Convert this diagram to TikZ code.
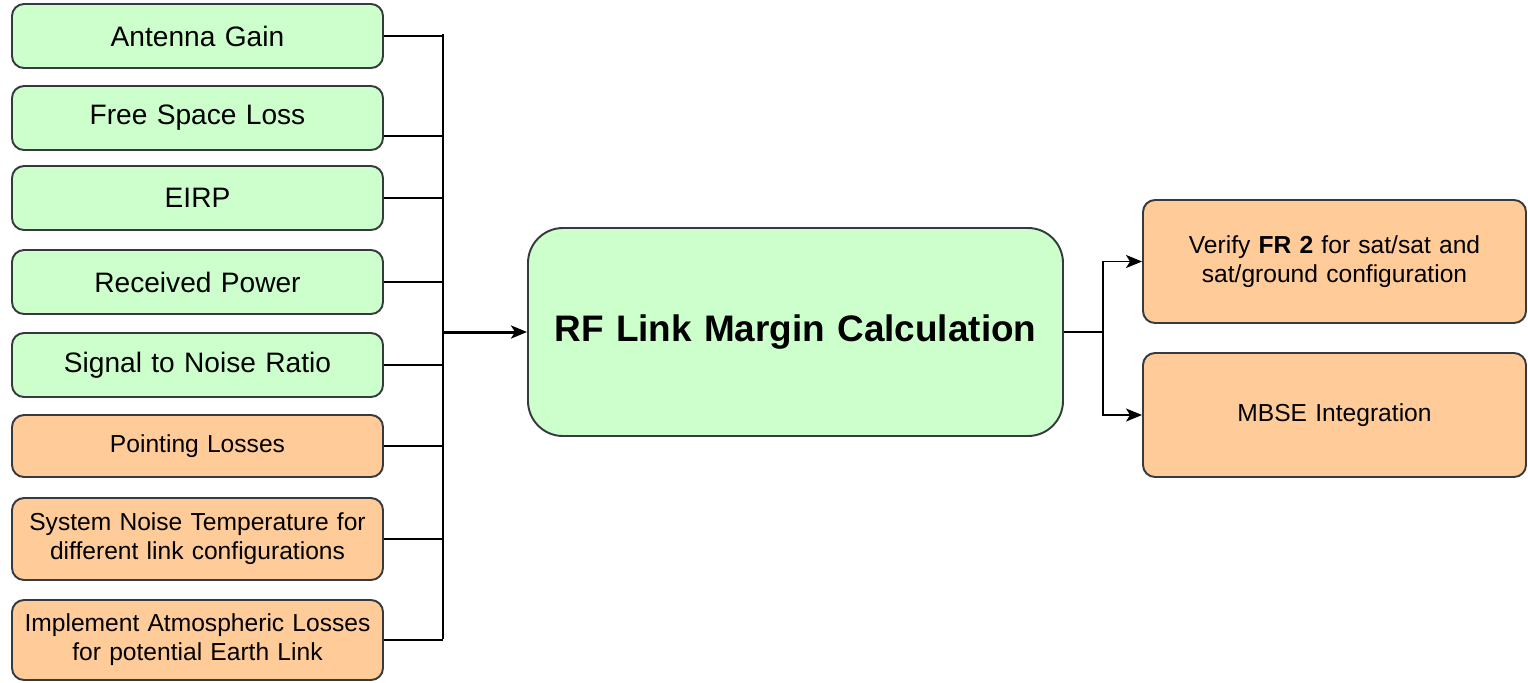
\documentclass[tikz,border=0pt]{standalone}
\usepackage{fontspec}
\setmainfont{Liberation Sans}
\usepackage{tikz}
\usetikzlibrary{arrows.meta}
\definecolor{paleGreen}{HTML}{CCFFCC}
\definecolor{paleOrange}{HTML}{FFCC99}
\definecolor{edgeGray}{HTML}{36393D}

\begin{document}
\begin{tikzpicture}[>={Stealth[length=0.32cm,width=0.26cm,inset=0.08cm]},line width=1.1pt]
\tikzstyle{block}=[rectangle,draw=edgeGray,rounded corners=0.24cm,align=center,minimum width=7.42cm,text width=7.2cm,inner sep=0pt]
\tikzstyle{param}=[block,fill=paleGreen,minimum height=1.28cm,font=\fontsize{16}{19}\selectfont]
\tikzstyle{task}=[block,fill=paleOrange,font=\fontsize{14}{16.5}\selectfont]
\useasboundingbox (0,0) rectangle (30.56,-13.64);
\node[param] (gain) at (3.95,-0.72) {Antenna Gain};
\node[param] (fsl) at (3.95,-2.36) {Free Space Loss};
\node[param] (eirp) at (3.95,-3.96) {EIRP};
\node[param] (rxpow) at (3.95,-5.64) {Received Power};
\node[param] (snr) at (3.95,-7.30) {Signal to Noise Ratio};
\node[task, minimum height=1.24cm] (point) at (3.95,-8.92) {Pointing Losses};
\node[task, minimum height=1.64cm] (tsys) at (3.95,-10.78) {System Noise Temperature for\\different link configurations};
\node[task, minimum height=1.60cm] (atmo) at (3.95,-12.80) {Implement Atmospheric Losses\\for potential Earth Link};
\node[block, fill=paleGreen, rounded corners=0.7cm, minimum width=10.7cm, text width=10.5cm, minimum height=4.16cm, font=\fontsize{21}{25}\selectfont\bfseries] (margin) at (15.91,-6.64) {RF Link Margin Calculation};
\node[task, minimum width=7.66cm, text width=7.4cm, minimum height=2.46cm] (verify) at (26.69,-5.23) {Verify \textbf{FR 2} for sat/sat and\\sat/ground configuration};
\node[task, minimum width=7.66cm, text width=7.4cm, minimum height=2.48cm] (mbse) at (26.69,-8.30) {MBSE Integration};
\coordinate (busTop) at (8.86,-0.68);
\coordinate (busBot) at (8.86,-12.78);
\coordinate (split) at (22.06,-6.64);
\draw (busTop) -- (busBot);
\foreach \n in {gain,eirp,rxpow,snr,point,tsys,atmo}
  \draw (\n.east) -- (\n.east -| busTop);
\draw ([yshift=-0.36cm]fsl.east) -- ([yshift=-0.36cm]fsl.east -| busTop);
\draw[->, line width=1.7pt] (margin.west -| busTop) -- (margin.west);
\draw (margin.east) -- (split);
\draw[->] (split) |- (verify.west);
\draw[->] (split) |- (mbse.west);
\end{tikzpicture}
\end{document}
